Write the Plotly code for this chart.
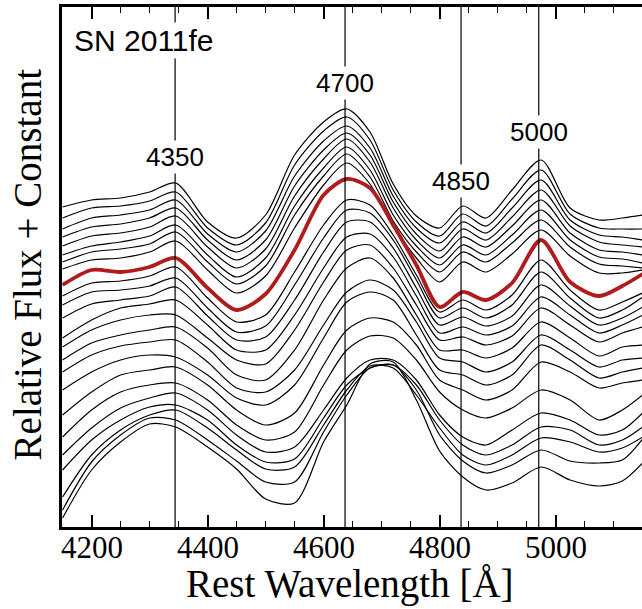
import plotly.graph_objects as go

# Rest wavelength grid (Angstrom) shared by every spectrum
wave = [4150, 4200, 4250, 4300, 4345, 4400, 4450, 4500, 4550, 4600, 4640, 4680,
        4720, 4760, 4800, 4840, 4880, 4925, 4975, 5025, 5075, 5115, 5150]

# Relative flux + constant, top spectrum first
spec_01 = [3.20, 3.27, 3.29, 3.35, 3.44, 3.05, 2.89, 3.12, 3.72, 4.05, 4.18, 3.95, 3.43, 3.11, 2.99, 3.21, 3.09, 3.37, 3.67, 3.19, 3.07, 3.09, 3.12]
spec_02 = [3.09, 3.19, 3.21, 3.26, 3.35, 2.99, 2.82, 3.04, 3.62, 3.96, 4.10, 3.87, 3.37, 3.05, 2.91, 3.13, 3.01, 3.28, 3.57, 3.13, 2.99, 2.98, 2.98]
spec_03 = [2.98, 3.09, 3.12, 3.17, 3.27, 2.93, 2.75, 2.96, 3.51, 3.86, 4.01, 3.79, 3.31, 2.99, 2.84, 3.05, 2.94, 3.19, 3.47, 3.07, 2.92, 2.90, 2.87]
spec_04 = [2.90, 3.00, 3.03, 3.09, 3.19, 2.87, 2.67, 2.87, 3.41, 3.77, 3.94, 3.72, 3.25, 2.93, 2.76, 2.98, 2.87, 3.10, 3.37, 3.01, 2.85, 2.82, 2.80]
spec_05 = [2.81, 2.91, 2.94, 3.00, 3.11, 2.80, 2.59, 2.78, 3.31, 3.68, 3.88, 3.65, 3.19, 2.87, 2.69, 2.90, 2.80, 3.01, 3.27, 2.94, 2.77, 2.75, 2.72]
spec_06 = [2.72, 2.81, 2.85, 2.91, 3.02, 2.72, 2.50, 2.69, 3.21, 3.59, 3.80, 3.57, 3.12, 2.81, 2.62, 2.82, 2.72, 2.92, 3.17, 2.87, 2.70, 2.68, 2.64]
spec_07 = [2.65, 2.75, 2.78, 2.83, 2.95, 2.65, 2.43, 2.61, 3.12, 3.51, 3.73, 3.50, 3.06, 2.75, 2.55, 2.75, 2.65, 2.84, 3.07, 2.80, 2.63, 2.61, 2.59]
spec_08 = [2.58, 2.67, 2.69, 2.75, 2.86, 2.57, 2.34, 2.51, 2.99, 3.42, 3.64, 3.43, 3.01, 2.69, 2.45, 2.65, 2.55, 2.73, 2.97, 2.71, 2.54, 2.54, 2.57]
spec_red = [2.42, 2.57, 2.55, 2.60, 2.69, 2.39, 2.17, 2.33, 2.77, 3.32, 3.48, 3.39, 3.02, 2.62, 2.20, 2.35, 2.27, 2.44, 2.87, 2.45, 2.31, 2.41, 2.53]
spec_10 = [2.31, 2.44, 2.46, 2.51, 2.60, 2.29, 2.05, 2.12, 2.55, 3.02, 3.27, 3.22, 2.92, 2.52, 2.15, 2.27, 2.17, 2.32, 2.67, 2.37, 2.17, 2.25, 2.34]
spec_11 = [2.22, 2.35, 2.37, 2.41, 2.49, 2.19, 1.95, 2.01, 2.42, 2.89, 3.17, 3.14, 2.87, 2.47, 2.09, 2.19, 2.09, 2.22, 2.55, 2.29, 2.09, 2.17, 2.30]
spec_12 = [2.09, 2.23, 2.27, 2.31, 2.40, 2.11, 1.87, 1.90, 2.27, 2.75, 3.05, 3.05, 2.79, 2.39, 2.02, 2.10, 2.01, 2.11, 2.42, 2.21, 2.02, 2.09, 2.20]
spec_13 = [1.89, 2.07, 2.19, 2.23, 2.27, 2.02, 1.77, 1.77, 2.12, 2.59, 2.90, 2.93, 2.70, 2.31, 1.94, 2.00, 1.92, 2.01, 2.30, 2.12, 1.94, 2.02, 2.12]
spec_14 = [1.80, 1.97, 2.07, 2.12, 2.12, 1.89, 1.67, 1.63, 1.97, 2.45, 2.77, 2.82, 2.59, 2.22, 1.87, 1.90, 1.82, 1.91, 2.19, 2.02, 1.85, 1.94, 2.00]
spec_15 = [1.67, 1.84, 1.92, 1.97, 2.00, 1.79, 1.52, 1.47, 1.77, 2.27, 2.59, 2.69, 2.49, 2.12, 1.77, 1.77, 1.69, 1.79, 2.05, 1.89, 1.71, 1.80, 1.82]
spec_16 = [1.55, 1.72, 1.81, 1.85, 1.87, 1.65, 1.39, 1.35, 1.57, 2.02, 2.35, 2.47, 2.37, 2.05, 1.69, 1.65, 1.55, 1.65, 1.92, 1.77, 1.60, 1.67, 1.69]
spec_17 = [1.37, 1.55, 1.67, 1.72, 1.70, 1.52, 1.29, 1.22, 1.42, 1.89, 2.25, 2.35, 2.27, 1.92, 1.57, 1.52, 1.42, 1.52, 1.82, 1.67, 1.49, 1.55, 1.59]
spec_18 = [1.12, 1.35, 1.52, 1.57, 1.60, 1.42, 1.17, 1.02, 1.14, 1.62, 1.97, 2.09, 2.05, 1.82, 1.47, 1.37, 1.27, 1.37, 1.65, 1.55, 1.39, 1.44, 1.47]
spec_19 = [0.90, 1.17, 1.35, 1.42, 1.44, 1.27, 1.02, 0.87, 0.95, 1.42, 1.77, 1.91, 1.89, 1.67, 1.35, 1.17, 1.09, 1.19, 1.37, 1.27, 1.07, 1.17, 1.32]
spec_20 = [0.72, 0.99, 1.19, 1.29, 1.34, 1.17, 0.92, 0.75, 0.80, 1.17, 1.49, 1.67, 1.67, 1.47, 1.12, 0.90, 0.82, 0.97, 1.14, 1.07, 0.92, 0.97, 1.14]
spec_21 = [0.57, 0.87, 1.07, 1.20, 1.22, 1.07, 0.82, 0.65, 0.68, 1.09, 1.42, 1.59, 1.62, 1.42, 1.07, 0.82, 0.72, 0.82, 1.00, 0.97, 0.82, 0.87, 1.00]
spec_22 = [0.30, 0.72, 0.97, 1.12, 1.17, 0.99, 0.77, 0.58, 0.60, 1.02, 1.37, 1.61, 1.59, 1.32, 0.99, 0.72, 0.62, 0.72, 0.89, 0.85, 0.75, 0.79, 0.90]
spec_23 = [0.17, 0.65, 0.92, 1.09, 1.07, 0.87, 0.66, 0.45, 0.45, 0.95, 1.32, 1.59, 1.62, 1.37, 0.92, 0.66, 0.54, 0.62, 0.77, 0.66, 0.64, 0.67, 0.88]
spec_24 = [0.09, 0.57, 0.85, 1.03, 1.00, 0.80, 0.58, 0.28, 0.24, 0.85, 1.22, 1.63, 1.65, 1.27, 0.76, 0.50, 0.37, 0.44, 0.60, 0.47, 0.41, 0.46, 0.64]

black_spectra = [spec_01, spec_02, spec_03, spec_04, spec_05, spec_06, spec_07, spec_08,
                 spec_10, spec_11, spec_12, spec_13, spec_14, spec_15, spec_16, spec_17,
                 spec_18, spec_19, spec_20, spec_21, spec_22, spec_23, spec_24]

# Marked features: where the line is drawn and the label it carries
feature_wave = [4344, 4637, 4837, 4971]
feature_label = ["4350", "4700", "4850", "5000"]
feature_label_y = [3.70, 4.44, 3.46, 3.95]

# bottom axis tick labels
tick_vals = [4200, 4400, 4600, 4800, 5000]
tick_text = ["4200", "4400", "4600", "4800", "5000"]

SERIF = "Liberation Serif"
SANS = "Liberation Sans"

fig = go.Figure()

for flux in black_spectra:
    fig.add_trace(go.Scatter(
        x=wave, y=flux, mode="lines",
        line=dict(color="black", width=1.2, shape="spline", smoothing=0.8),
        hoverinfo="skip", showlegend=False
    ))

fig.add_trace(go.Scatter(
    x=wave, y=spec_red, mode="lines",
    line=dict(color="#B01C1C", width=3.8, shape="spline", smoothing=0.8),
    hoverinfo="skip", showlegend=False
))

# vertical marker lines, labels sit on a white box over them
for w, lab, ly in zip(feature_wave, feature_label, feature_label_y):
    fig.add_shape(type="line", xref="x", yref="paper", x0=w, x1=w, y0=0, y1=1,
                  line=dict(color="black", width=1.2))
    fig.add_annotation(x=w, y=ly, text=lab, showarrow=False, bgcolor="white",
                       font=dict(family=SANS, size=26, color="black"),
                       xanchor="center", yanchor="middle")

fig.add_annotation(x=4166, y=4.87, text="SN 2011fe", showarrow=False, bgcolor="white",
                   font=dict(family=SANS, size=30, color="black"),
                   xanchor="left", yanchor="middle")

# tick labels and axis titles placed as text just outside the frame
for tv, tt in zip(tick_vals, tick_text):
    fig.add_annotation(x=tv, xref="x", y=0, yref="paper", yshift=-20, text=tt,
                       showarrow=False, xanchor="center", yanchor="middle",
                       font=dict(family=SERIF, size=31, color="black"))

fig.add_annotation(x=0.4966, xref="paper", y=0, yref="paper", yshift=-57,
                   text="Rest Wavelength [Å]", showarrow=False,
                   xanchor="center", yanchor="middle",
                   font=dict(family=SERIF, size=39, color="black"))

fig.add_annotation(x=0, xref="paper", xshift=-35, y=0.505, yref="paper",
                   text="Relative Flux + Constant", showarrow=False, textangle=-90,
                   xanchor="center", yanchor="middle",
                   font=dict(family=SERIF, size=39, color="black"))

fig.update_layout(
    width=642, height=609,
    margin=dict(l=62, r=0, t=7, b=82, autoexpand=False),
    paper_bgcolor="white", plot_bgcolor="white",
    showlegend=False,
)

fig.update_xaxes(
    range=[4149, 5149], automargin=False,
    tickmode="linear", tick0=4200, dtick=200, showticklabels=False,
    ticks="inside", ticklen=12, tickwidth=2, tickcolor="black",
    minor=dict(ticks="inside", dtick=50, tick0=4200, ticklen=6, tickwidth=1, tickcolor="black"),
    showline=True, linewidth=2.5, linecolor="black", mirror="ticks",
    showgrid=False, zeroline=False,
)

fig.update_yaxes(
    range=[0, 5.2], automargin=False,
    showline=True, linewidth=2.5, linecolor="black", mirror=False,
    ticks="", showticklabels=False, showgrid=False, zeroline=False,
)

# the page body has a default margin; drop it so the figure sits at the window corner
fig.write_html("out.html", config={"displayModeBar": False},
               post_script="document.body.style.margin='0';")
